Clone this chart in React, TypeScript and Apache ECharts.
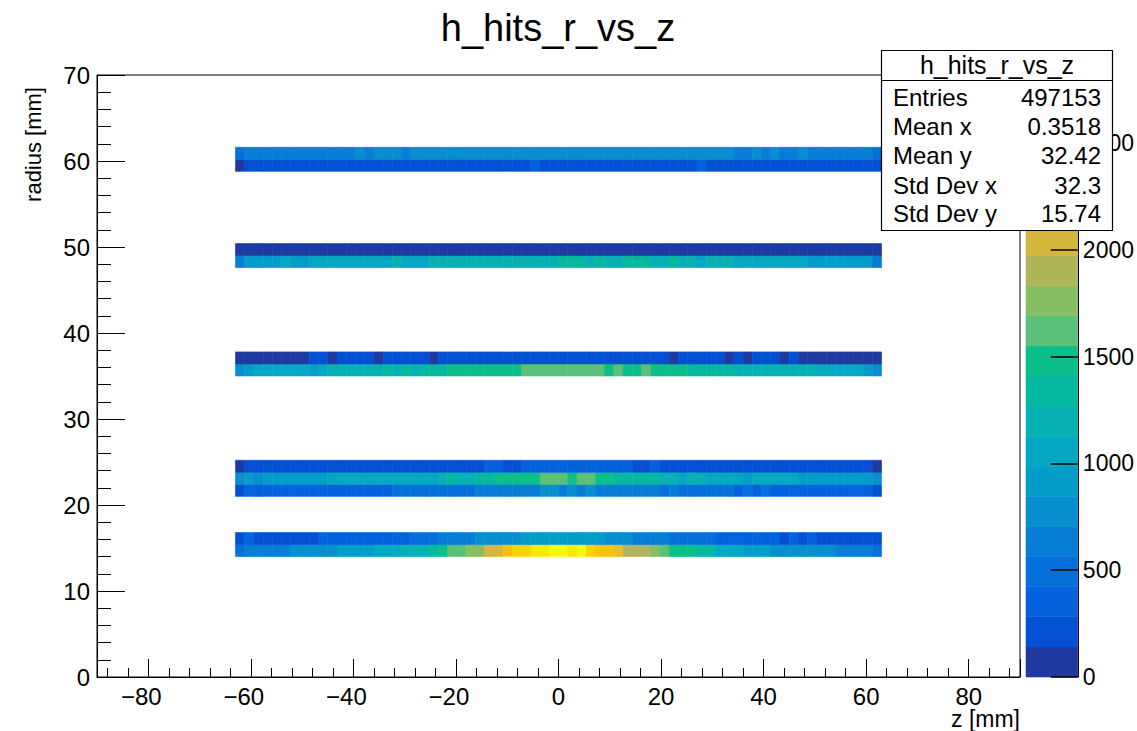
import React, { useEffect, useRef } from "react";
import * as echarts from "echarts";

// ---------------- data ----------------
const TITLE = "h_hits_r_vs_z";
const X_TITLE = "z [mm]";
const Y_TITLE = "radius [mm]";

// histogram binning (TH2: 100 bins in z from -90 to 90, 50 bins in r from 0 to 70)
const X_NBINS = 100;
const X_LOW = -90;
const X_HIGH = 90;
const Y_NBINS = 50;
const Y_LOW = 0;
const Y_HIGH = 70;

// filled z bins are 15..84 (z from -63 to 63)
const FIRST_Z_BIN = 15;

// r-bin index of each filled row
const Y_BIN_INDEX = [10, 11, 15, 16, 17, 25, 26, 34, 35, 42, 43];

const counts_r10 = [498, 589, 611, 634, 652, 676, 728, 751, 772, 794, 818, 862, 891, 918, 947, 1009, 1048, 1092, 1147, 1189, 1231, 1329, 1468, 1604, 1663, 1742, 1801, 2012, 2078, 2331, 2438, 2497, 2589, 2637, 2731, 2762, 2614, 2708, 2476, 2352, 2289, 2187, 1937, 1898, 1861, 1769, 1628, 1521, 1478, 1436, 1362, 1307, 1097, 1062, 1028, 961, 934, 902, 824, 806, 787, 769, 752, 738, 721, 683, 658, 627, 598, 507];
const counts_r11 = [262, 304, 241, 249, 255, 262, 268, 273, 279, 297, 309, 322, 334, 345, 357, 368, 379, 391, 403, 447, 482, 516, 588, 617, 645, 672, 724, 748, 771, 793, 812, 859, 881, 902, 921, 938, 943, 927, 904, 878, 827, 796, 762, 687, 654, 622, 591, 548, 521, 496, 472, 446, 408, 384, 362, 341, 323, 309, 298, 276, 299, 271, 297, 268, 259, 249, 238, 226, 212, 191];
const counts_r15 = [238, 301, 318, 327, 339, 346, 352, 361, 367, 374, 379, 386, 391, 396, 402, 405, 409, 441, 456, 468, 477, 489, 498, 507, 518, 529, 582, 597, 611, 624, 638, 652, 668, 721, 729, 689, 724, 681, 718, 676, 663, 651, 639, 624, 612, 598, 547, 581, 538, 524, 511, 497, 482, 468, 409, 441, 404, 437, 401, 393, 384, 376, 368, 357, 349, 338, 327, 316, 301, 274];
const counts_r16 = [788, 871, 812, 884, 897, 912, 923, 936, 948, 961, 1003, 1018, 1029, 1041, 1052, 1063, 1071, 1079, 1086, 1094, 1101, 1108, 1162, 1297, 1218, 1234, 1311, 1348, 1436, 1458, 1479, 1497, 1518, 1571, 1589, 1602, 1531, 1584, 1567, 1512, 1493, 1391, 1368, 1346, 1321, 1298, 1247, 1228, 1112, 1214, 1196, 1104, 1091, 1076, 1062, 968, 1058, 1047, 1036, 1024, 1011, 972, 958, 944, 931, 918, 902, 887, 866, 742];
const counts_r17 = [121, 168, 179, 186, 194, 199, 205, 211, 216, 221, 225, 229, 233, 236, 240, 243, 246, 249, 252, 255, 257, 260, 262, 264, 267, 269, 272, 296, 301, 274, 276, 298, 305, 311, 316, 319, 322, 318, 314, 309, 306, 302, 297, 275, 271, 296, 268, 266, 263, 261, 258, 255, 252, 249, 246, 242, 238, 235, 231, 227, 223, 218, 213, 207, 201, 195, 188, 180, 171, 124];
const counts_r25 = [781, 903, 1012, 1036, 1049, 1058, 1071, 1085, 968, 1097, 1148, 1163, 1179, 1192, 1206, 1221, 1289, 1238, 1301, 1247, 1318, 1334, 1352, 1431, 1447, 1462, 1478, 1490, 1503, 1515, 1528, 1566, 1581, 1597, 1608, 1619, 1612, 1601, 1590, 1578, 1531, 1567, 1524, 1511, 1562, 1498, 1482, 1466, 1447, 1392, 1374, 1357, 1336, 1312, 1252, 1241, 1229, 1214, 1198, 1186, 1171, 1158, 1143, 1109, 1091, 1072, 1054, 1031, 952, 774];
const counts_r26 = [98, 112, 118, 124, 127, 131, 135, 138, 146, 151, 139, 149, 156, 152, 158, 140, 153, 161, 157, 164, 159, 139, 162, 168, 171, 165, 174, 169, 177, 172, 179, 175, 181, 176, 183, 178, 180, 174, 177, 171, 173, 166, 169, 163, 165, 158, 155, 138, 156, 152, 149, 154, 147, 137, 145, 136, 148, 143, 146, 134, 142, 136, 132, 135, 129, 126, 121, 117, 110, 96];
const counts_r34 = [648, 921, 948, 935, 962, 1004, 958, 969, 1018, 1032, 1047, 1025, 1061, 1054, 1079, 1068, 1093, 1142, 1098, 1104, 1112, 1151, 1168, 1183, 1176, 1197, 1210, 1189, 1224, 1202, 1231, 1215, 1242, 1228, 1247, 1283, 1296, 1288, 1251, 1285, 1249, 1238, 1291, 1302, 1284, 1244, 1236, 1281, 1229, 1218, 1108, 1176, 1161, 1148, 1110, 1094, 1087, 1073, 1066, 1052, 1041, 1033, 972, 961, 947, 938, 924, 909, 888, 642];
const counts_r35 = [96, 104, 108, 111, 106, 114, 117, 112, 119, 121, 116, 123, 118, 125, 120, 127, 122, 129, 124, 126, 130, 123, 128, 131, 125, 133, 127, 130, 126, 132, 128, 134, 129, 131, 127, 133, 130, 135, 128, 132, 126, 131, 129, 134, 127, 130, 125, 132, 128, 129, 124, 127, 122, 126, 121, 124, 118, 122, 116, 119, 113, 117, 111, 114, 108, 110, 105, 107, 101, 92];
const counts_r42 = [118, 188, 201, 196, 212, 205, 219, 224, 210, 228, 233, 219, 238, 242, 231, 247, 239, 252, 244, 255, 248, 258, 251, 246, 259, 262, 254, 249, 263, 257, 266, 271, 296, 264, 258, 261, 255, 249, 260, 252, 247, 256, 244, 251, 238, 246, 241, 233, 240, 236, 291, 232, 226, 229, 221, 218, 224, 213, 217, 208, 211, 204, 199, 206, 195, 198, 187, 191, 183, 172];
const counts_r43 = [512, 648, 662, 631, 655, 640, 671, 659, 644, 668, 652, 679, 687, 728, 684, 731, 742, 725, 689, 738, 752, 761, 745, 770, 758, 781, 766, 774, 790, 772, 785, 793, 779, 801, 788, 796, 782, 807, 794, 786, 799, 781, 775, 768, 784, 771, 760, 757, 749, 744, 738, 733, 727, 721, 688, 681, 719, 676, 716, 672, 668, 717, 662, 655, 647, 650, 638, 631, 622, 530];

const ROW_COUNTS = [counts_r10, counts_r11, counts_r15, counts_r16, counts_r17, counts_r25, counts_r26, counts_r34, counts_r35, counts_r42, counts_r43];

// colour scale
const Z_MIN = 0;
const Z_MAX = 2818;
const N_LEVELS = 20;
const PALETTE = [
  "#1E3AA0", "#0450D2", "#0462DC", "#0570DA", "#067ED5",
  "#068ECF", "#049DC9", "#03A8C2", "#07B1B3", "#05B8A0",
  "#0CBE8A", "#5BC07A", "#86BE63", "#AFB559", "#D4B63C",
  "#EEBB2A", "#FBC112", "#FDD206", "#FCE808", "#F8F90E",
];

// stats box
const STATS_LABELS = ["Entries", "Mean x", "Mean y", "Std Dev x", "Std Dev y"];
const STATS_VALUES = ["497153", "0.3518", "32.42", "32.3", "15.74"];

// ---------------- helpers ----------------
const FONT = "'Liberation Sans', Arial, Helvetica, sans-serif";
const X_BIN_W = (X_HIGH - X_LOW) / X_NBINS;
const Y_BIN_W = (Y_HIGH - Y_LOW) / Y_NBINS;
const LEVEL_W = (Z_MAX - Z_MIN) / N_LEVELS;

function levelOf(v: number): number {
  const k = Math.floor((v - Z_MIN) / LEVEL_W);
  return Math.max(0, Math.min(N_LEVELS - 1, k));
}

function buildCells(): number[][] {
  const cells: number[][] = [];
  ROW_COUNTS.forEach((row, r) => {
    const yb = Y_BIN_INDEX[r];
    const y0 = Y_LOW + yb * Y_BIN_W;
    const y1 = y0 + Y_BIN_W;
    row.forEach((v, i) => {
      const xb = FIRST_Z_BIN + i;
      const x0 = X_LOW + xb * X_BIN_W;
      const x1 = x0 + X_BIN_W;
      cells.push([x0, x1, y0, y1, v]);
    });
  });
  return cells;
}

function buildColorbar(): number[][] {
  const out: number[][] = [];
  for (let k = 0; k < N_LEVELS; k++) {
    out.push([0, 1, Z_MIN + k * LEVEL_W, Z_MIN + (k + 1) * LEVEL_W, k]);
  }
  return out;
}

const rectItem = (api: any, color: string) => {
  const p0 = api.coord([api.value(0), api.value(3)]);
  const p1 = api.coord([api.value(1), api.value(2)]);
  return {
    type: "rect",
    shape: { x: p0[0], y: p0[1], width: p1[0] - p0[0], height: p1[1] - p0[1] },
    style: { fill: color, stroke: color, lineWidth: 0.6 },
  };
};

// negative labels: wide minus sign, label shifted left like ROOT does
const xLabelFmt = (v: number) => (v < 0 ? "{neg|\u2212" + Math.abs(v) + "}" : "{pos|" + v + "}");

export default function App() {
  const ref = useRef<HTMLDivElement>(null);

  useEffect(() => {
    if (!ref.current) return;
    const chart = echarts.init(ref.current, undefined, { renderer: "svg" });

    const statsGraphics: any[] = [
      {
        type: "rect",
        z: 100,
        shape: { x: 881.5, y: 50.5, width: 231, height: 180 },
        style: { fill: "#fff", stroke: "#000", lineWidth: 1.2 },
      },
      {
        type: "line",
        z: 101,
        shape: { x1: 881.5, y1: 80.5, x2: 1112.5, y2: 80.5 },
        style: { stroke: "#000", lineWidth: 1.2 },
      },
      {
        type: "text",
        z: 101,
        x: 997,
        y: 65,
        style: { text: TITLE, fontSize: 25, fontFamily: FONT, fill: "#000", align: "center", verticalAlign: "middle", textAlign: "center", textVerticalAlign: "middle" },
      },
    ];
    const rowY = [97, 126, 155, 185, 213];
    STATS_LABELS.forEach((lab, i) => {
      statsGraphics.push({
        type: "text",
        z: 101,
        x: 893,
        y: rowY[i],
        style: { text: lab, fontSize: 24, fontFamily: FONT, fill: "#000", align: "left", verticalAlign: "middle", textAlign: "left", textVerticalAlign: "middle" },
      });
      statsGraphics.push({
        type: "text",
        z: 101,
        x: 1101,
        y: rowY[i],
        style: { text: STATS_VALUES[i], fontSize: 24, fontFamily: FONT, fill: "#000", align: "right", verticalAlign: "middle", textAlign: "right", textVerticalAlign: "middle" },
      });
    });

    const axisLabelStyle = { color: "#000", fontSize: 24, fontFamily: FONT };

    const option: any = {
      animation: false,
      backgroundColor: "#fff",
      grid: [
        { left: 97, top: 75, width: 923, height: 602, show: true, borderColor: "#000", borderWidth: 1, backgroundColor: "transparent" },
        { left: 1026, top: 75, width: 52, height: 602, show: false },
      ],
      xAxis: [
        {
          type: "value",
          gridIndex: 0,
          min: X_LOW,
          max: X_HIGH,
          splitNumber: 9,
          axisLine: { show: true, onZero: false, lineStyle: { color: "#000", width: 1 } },
          axisTick: { show: true, inside: true, length: 18, lineStyle: { color: "#000", width: 1 } },
          minorTick: { show: true, splitNumber: 5, length: 9, lineStyle: { color: "#000", width: 1 } },
          splitLine: { show: false },
          axisLabel: {
            ...axisLabelStyle,
            margin: 7,
            showMinLabel: false,
            showMaxLabel: false,
            formatter: xLabelFmt,
            rich: {
              neg: { fontSize: 24, fontFamily: FONT, color: "#000", padding: [0, 14, 0, 0] },
              pos: { fontSize: 24, fontFamily: FONT, color: "#000" },
            },
          },
        },
        { type: "value", gridIndex: 1, min: 0, max: 1, show: false },
      ],
      yAxis: [
        {
          type: "value",
          gridIndex: 0,
          min: Y_LOW,
          max: Y_HIGH,
          interval: 10,
          axisLine: { show: true, onZero: false, lineStyle: { color: "#000", width: 1 } },
          axisTick: { show: true, inside: true, length: 28, lineStyle: { color: "#000", width: 1 } },
          minorTick: { show: true, splitNumber: 5, length: 14, lineStyle: { color: "#000", width: 1 } },
          splitLine: { show: false },
          axisLabel: { ...axisLabelStyle, margin: 7 },
        },
        {
          type: "value",
          gridIndex: 1,
          position: "right",
          min: Z_MIN,
          max: Z_MAX,
          interval: 500,
          z: 10,
          axisLine: { show: true, onZero: false, lineStyle: { color: "#000", width: 1 } },
          axisTick: { show: true, inside: true, length: 27, lineStyle: { color: "#000", width: 1.5 } },
          splitLine: { show: false },
          axisLabel: { ...axisLabelStyle, fontSize: 23, margin: 5, showMaxLabel: false, formatter: (v: number) => String(v) },
        },
      ],
      series: [
        {
          type: "custom",
          xAxisIndex: 0,
          yAxisIndex: 0,
          data: buildCells(),
          encode: { x: [0, 1], y: [2, 3] },
          renderItem: (_p: any, api: any) => rectItem(api, PALETTE[levelOf(api.value(4))]),
          silent: true,
          z: 2,
        },
        {
          type: "custom",
          xAxisIndex: 1,
          yAxisIndex: 1,
          data: buildColorbar(),
          encode: { x: [0, 1], y: [2, 3] },
          renderItem: (_p: any, api: any) => rectItem(api, PALETTE[api.value(4)]),
          silent: true,
          z: 1,
        },
      ],
      graphic: [
        {
          type: "text",
          x: 558,
          y: 28,
          style: { text: TITLE, fontSize: 38, fontFamily: FONT, fill: "#000", align: "center", verticalAlign: "middle", textAlign: "center", textVerticalAlign: "middle" },
        },
        {
          type: "text",
          x: 1020,
          y: 719,
          style: { text: X_TITLE, fontSize: 23, fontFamily: FONT, fill: "#000", align: "right", verticalAlign: "middle", textAlign: "right", textVerticalAlign: "middle" },
        },
        {
          type: "text",
          x: 33,
          y: 87,
          rotation: Math.PI / 2,
          style: { text: Y_TITLE, fontSize: 22, fontFamily: FONT, fill: "#000", align: "right", verticalAlign: "middle", textAlign: "right", textVerticalAlign: "middle" },
        },
        ...statsGraphics,
      ],
    };

    chart.setOption(option);
    return () => chart.dispose();
  }, []);

  return (
    <div
      ref={ref}
      style={{ position: "fixed", left: 0, top: 0, width: 1137, height: 731, background: "#fff" }}
    />
  );
}
